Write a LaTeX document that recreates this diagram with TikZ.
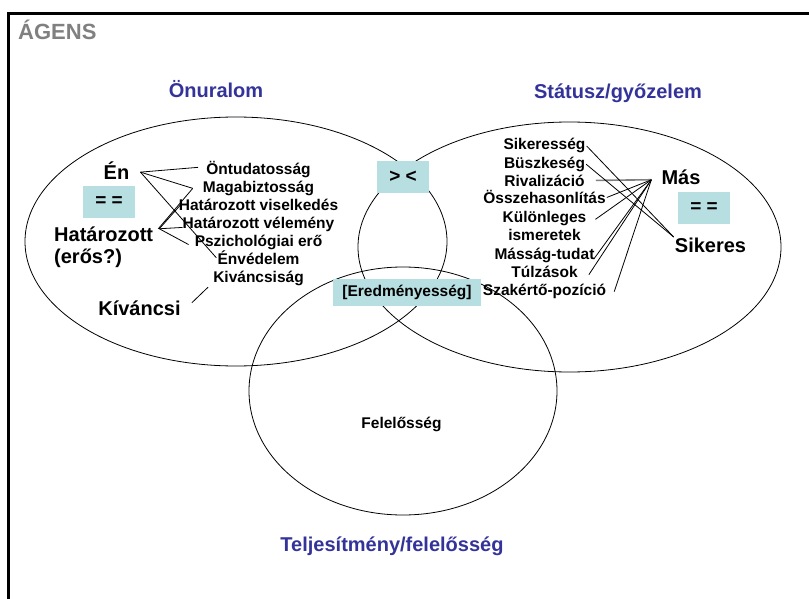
\documentclass[tikz,border=0pt]{standalone}
\usepackage{fontspec}
\setmainfont{Liberation Sans}
\usepackage{tikz}
\usetikzlibrary{calc,positioning}
\definecolor{headblue}{RGB}{51,51,153}
\definecolor{agensgray}{RGB}{128,128,128}
\definecolor{boxteal}{RGB}{183,222,224}
\tikzset{
    head/.style={
        font={\fontsize{20pt}{24pt}\selectfont\bfseries},
        text=headblue,
        anchor=base
    },
    bigterm/.style={
        font={\fontsize{20pt}{24pt}\selectfont\bfseries},
        inner sep=1pt,
        anchor=base
    },
    smallterm/.style={
        font={\fontsize{15.5pt}{18pt}\selectfont\bfseries},
        inner sep=1pt,
        anchor=base
    },
    tealbox/.style={
        fill=boxteal,
        inner sep=0pt,
        minimum width=52pt,
        minimum height=32pt,
        font={\fontsize{19pt}{22pt}\selectfont\bfseries}
    },
    link/.style={draw, line width=0.8pt},
    set/.style={draw, line width=0.8pt},
}
\begin{document}
\begin{tikzpicture}
[
    x=1pt, y=-1pt,
]
\useasboundingbox (0,0) rectangle (809,599);
% frame
\draw[line width=2.7pt] (809,13.5) -- (8.5,13.5) -- (8.5,599);
\node(agens) at (18,40)[anchor=base west, inner sep=0pt, text=agensgray,
    font={\fontsize{22pt}{26pt}\selectfont\bfseries}]{ÁGENS};

% the three sets
\draw[set] (236,241.5) ellipse [x radius=211pt, y radius=124.5pt];
\draw[set] (569.5,247) ellipse [x radius=211.5pt, y radius=125pt];
\draw[set] (403,391) ellipse [x radius=154pt, y radius=124pt];

\node(onur) at (216,98)[head]{Önuralom};
\node(stat) at (618,98.5)[head]{Státusz/győzelem};
\node(telj) at (392,551.5)[head]{Teljesítmény/felelősség};

% left set
\node(en) at (116.5,179)[bigterm]{Én};
\node(eqL) at (109,202)[tealbox]{= =};
\node(hat) at (53,241)[bigterm, anchor=base west]{Határozott};
\node(eros) at (53,263)[bigterm, anchor=base west]{(erős?)};
\node(kiv) at (139.5,315)[bigterm]{Kíváncsi};

\node(ontud) at (258.5,174.3)[smallterm]{Öntudatosság};
\node(magab) at (258.5,192.4)[smallterm]{Magabiztosság};
\node(hatvis) at (258.5,210.4)[smallterm]{Határozott viselkedés};
\node(hatvel) at (258.5,228.5)[smallterm]{Határozott vélemény};
\node(pszi) at (258.5,246.6)[smallterm]{Pszichológiai erő};
\node(envad) at (258.5,264.6)[smallterm]{Énvédelem};
\node(kivsag) at (258.5,282.7)[smallterm]{Kiváncsiság};

\coordinate(enpt) at ([shift={(10,2)}]en.east);
\coordinate(hatpt) at ([shift={(5,-5)}]hat.east);
\draw[link] (enpt) -- ([shift={(-7,-2)}]ontud.west);
\draw[link] (enpt) -- ([shift={(-9,0)}]magab.west);
\draw[link] (enpt) -- (envad.west);
\draw[link] ([xshift=-1]hatpt) -- ([shift={(-9,0)}]magab.west);
\draw[link] (hatpt) -- ([xshift=3]hatvis.west);
\draw[link] (hatpt) -- ([shift={(1,3)}]hatvel.west);
\draw[link] (hatpt) -- ([shift={(-5,2)}]pszi.west);
\draw[link] ([shift={(10,-5)}]kiv.east) -- ([xshift=-4]kivsag.south west);

% right set
\node(gtlt) at (403,177)[tealbox]{> <};
\node(mas) at (681,185)[bigterm]{Más};
\node(eqR) at (704,208)[tealbox]{= =};
\node(sik) at (710.5,252.7)[bigterm]{Sikeres};

\node(sikerseg) at (544.5,150)[smallterm]{Sikeresség};
\node(buszke) at (544.5,168.3)[smallterm]{Büszkeség};
\node(rival) at (544.5,186)[smallterm]{Rivalizáció};
\node(osszeh) at (544.5,204)[smallterm]{Összehasonlítás};
\node(kulon) at (544.5,222.3)[smallterm]{Különleges};
\node(ismer) at (544.5,240.7)[smallterm]{ismeretek};
\node(massag) at (544.5,259.3)[smallterm]{Másság-tudat};
\node(tulz) at (544.5,277.3)[smallterm]{Túlzások};
\node(szak) at (544.5,295.7)[smallterm]{Szakértő-pozíció};

\coordinate(maspt) at ([shift={(-9,2)}]mas.west);
\draw[draw=gray, line width=1.6pt] (maspt) -- ([xshift=10]rival.east);
\draw[link] (maspt) -- (osszeh.east);
\draw[link] (maspt) -- ([shift={(8,1)}]kulon.east);
\draw[link] (maspt) -- ([shift={(-2,4)}]massag.east);
\draw[link] (maspt) -- ([shift={(10,3)}]tulz.east);
\draw[link] (maspt) -- ([xshift=7]szak.east);
\draw[link] (sikerseg.east) -- (sik.north west);
\draw[link] (buszke.east) -- (sik.north west);

% bottom set
\node(ered) at (407,292.5)[tealbox, minimum width=148pt, minimum height=27pt,
    font={\fontsize{15.5pt}{18pt}\selectfont\bfseries}]{[Eredményesség]};
\node(felel) at (401.5,428)[smallterm]{Felelősség};
\end{tikzpicture}
\end{document}
